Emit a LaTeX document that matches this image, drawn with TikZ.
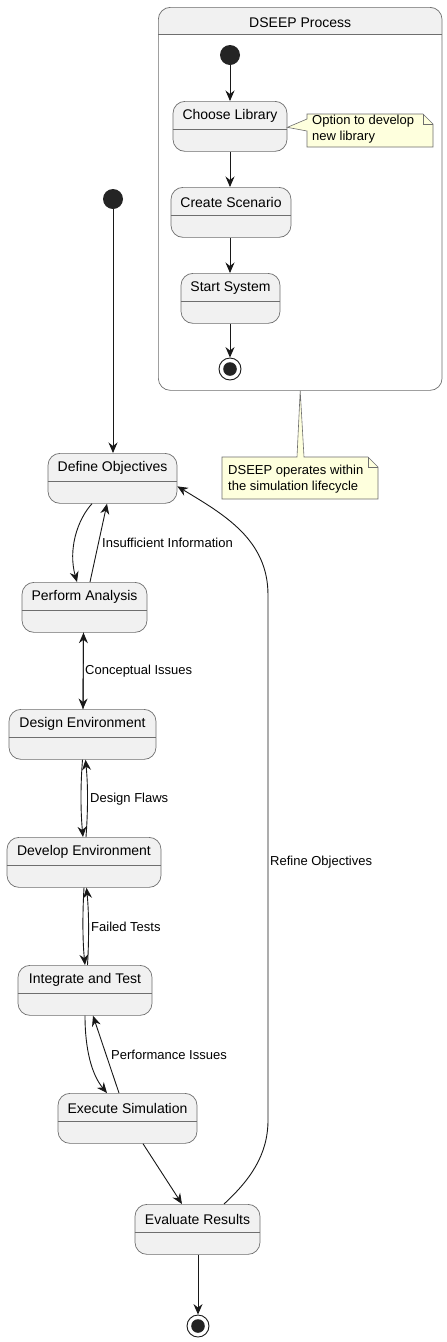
\documentclass[tikz,border=0pt]{standalone}
\usepackage{fontspec}
\setmainfont{Liberation Sans}
\usetikzlibrary{arrows.meta,calc}
\definecolor{stfill}{HTML}{F1F1F1}
\definecolor{stdraw}{HTML}{181818}
\definecolor{bordgray}{HTML}{6E6E6E}
\definecolor{notefill}{HTML}{FEFFDD}
\newcommand\fsA{\fontsize{14}{16}\selectfont}
\newcommand\fsB{\fontsize{13}{16}\selectfont}
\tikzset{
  stbox/.style={draw=bordgray, fill=stfill, line width=0.7pt, rounded corners=12pt, inner sep=0pt},
  stline/.style={draw=bordgray, line width=0.7pt},
  initst/.style={circle, fill=stdraw!95!white, minimum size=20pt, inner sep=0pt},
  finalst/.style={circle, draw=stdraw, line width=0.9pt, fill=white, minimum size=22pt, inner sep=0pt,
     path picture={\fill[stdraw!95!white] (path picture bounding box.center) circle (6.8pt);}},
  conn/.style={draw=stdraw, line width=0.9pt, -{Stealth[length=10.5pt,width=9pt,inset=3.5pt]}},
  plain/.style={draw=stdraw, line width=0.9pt},
  elabel/.style={font=\fsB, anchor=west, inner sep=0pt, text=black},
  notest/.style={draw=bordgray, fill=notefill, line width=0.6pt},
  notetext/.style={font=\fsB, align=left, anchor=north west, inner sep=0pt},
  container/.style={draw=bordgray, line width=0.7pt, rounded corners=12pt, inner sep=0pt}
}
% name, cx, top, width, text
\newcommand\mystate[5]{%
  \node[stbox, minimum width=#4pt, minimum height=50pt, anchor=north] (#1) at (#2,#3) {};
  \draw[stline] ([yshift=-28pt]#1.north west) -- ([yshift=-28pt]#1.north east);
  \node[font=\fsA, inner sep=0pt] (#1-t) at ([yshift=-15pt]#1.north) {#5};
}
\begin{document}
\begin{tikzpicture}[x=1pt,y=-1pt]
\useasboundingbox (0,0) rectangle (447,1342);
\fill[white] (0,0) rectangle (447,1342);

% ---------- DSEEP container ----------
\fill[stfill, rounded corners=12pt] (158,7) rectangle (441.7,50);
\fill[white] (158.5,34) rectangle (441.2,52);
\node[container, minimum width=283.7pt, minimum height=383pt, anchor=north west] (dp) at (158,7) {};
\draw[stline] ([yshift=-27pt]dp.north west) -- ([yshift=-27pt]dp.north east);
\node[font=\fsA, inner sep=0pt] (dpt) at ([yshift=-16pt]dp.north) {DSEEP Process};

\node[initst] (di) at (230,55) {};
\mystate{cl}{230}{101}{114}{Choose Library}
\mystate{cs}{231}{187}{120}{Create Scenario}
\mystate{ss}{230.5}{273}{99}{Start System}
\node[finalst] (df) at (230,369) {};

\draw[conn] (di) -- (di |- cl.north);
\draw[conn] (cl.south -| 230,0) -- (cs.north -| 230,0);
\draw[conn] (cs.south -| 230,0) -- (ss.north -| 230,0);
\draw[conn] (ss.south -| 230,0) -- (df.north);

% note on Choose Library
\draw[notest] (307,114) -- (423,114) -- (433,124) -- (433,147) -- (307,147) -- (307,131) -- ([yshift=-1pt]cl.east) -- (307,119) -- cycle;
\draw[notest, fill=none] (423,114) -- (423,124) -- (433,124);
\node[notetext] (n1) at (312,114.5) {Option to develop\\[0.5pt]new library};

% note on container
\draw[notest] (222,457) -- (297,457) -- (dp.south) -- (304,457) -- (368,457) -- (378,467) -- (378,499) -- (222,499) -- cycle;
\draw[notest, fill=none] (368,457) -- (368,467) -- (378,467);
\node[notetext] (n2) at (228,464.5) {DSEEP operates within\\[0.5pt]the simulation lifecycle};

% ---------- main lifecycle ----------
\node[initst] (mi) at (113,199) {};
\mystate{do}{112.5}{453}{129}{Define Objectives}
\mystate{pa}{84.5}{582}{125}{Perform Analysis}
\mystate{de}{82.5}{709}{147}{Design Environment}
\mystate{dv}{84}{837}{154}{Develop Environment}
\mystate{it}{85}{965}{134}{Integrate and Test}
\mystate{es}{127.5}{1093}{139}{Execute Simulation}
\mystate{er}{197.5}{1204}{125}{Evaluate Results}
\node[finalst] (mf) at (198,1326) {};

\draw[conn] (mi) -- (mi |- do.north);

% Define <-> Analysis
\draw[conn] ([xshift=-20.5pt]do.south) .. controls (77,520) and (68,550) .. ([xshift=-7.5pt]pa.north);
\draw[conn] ([xshift=5.5pt]pa.north) -- ([xshift=-5.5pt]do.south);
\node[elabel] (l1) at (102,543) {Insufficient Information};

% Analysis <-> Design
\draw[conn] ([xshift=-1pt]pa.south) -- ([xshift=0.5pt]de.north);
\draw[conn] ([xshift=0.5pt]de.north) -- ([xshift=-1pt]pa.south);
\node[elabel] (l2) at (85,671) {Conceptual Issues};

% Design <-> Develop
\draw[conn] ([xshift=0pt]de.south) .. controls (80.5,785) and (80.5,810) .. ([xshift=-1pt]dv.north);
\draw[conn] ([xshift=2pt]dv.north) .. controls (88,810) and (88,785) .. ([xshift=3pt]de.south);
\node[elabel] (l3) at (90,799) {Design Flaws};

% Develop <-> Integrate
\draw[conn] ([xshift=0pt]dv.south) .. controls (82.5,913) and (82.5,940) .. ([xshift=0pt]it.north);
\draw[conn] ([xshift=2.5pt]it.north) .. controls (89,940) and (89,913) .. ([xshift=2.5pt]dv.south);
\node[elabel] (l4) at (91,927) {Failed Tests};

% Integrate <-> Execute
\draw[conn] (it.south) .. controls (85,1050) and (92,1075) .. ([xshift=-20.5pt]es.north);
\draw[conn] ([xshift=-8.5pt]es.north) -- ([xshift=8pt]it.south);
\node[elabel] (l5) at (111,1055) {Performance Issues};

% Execute -> Evaluate
\draw[conn] ([xshift=15.5pt]es.south) -- ([xshift=-15.5pt]er.north);

% Evaluate -> final
\draw[conn] (er.south -| mf) -- (mf.north);

% Refine Objectives
\draw[conn] ([xshift=26.5pt]er.north) .. controls (250,1180) and (268,1155) .. (268,1120)
   -- (268,595) .. controls (268,540) and (225,515) .. ([yshift=-8pt]do.east);
\node[elabel] (l6) at (270,862) {Refine Objectives};
\end{tikzpicture}
\end{document}
